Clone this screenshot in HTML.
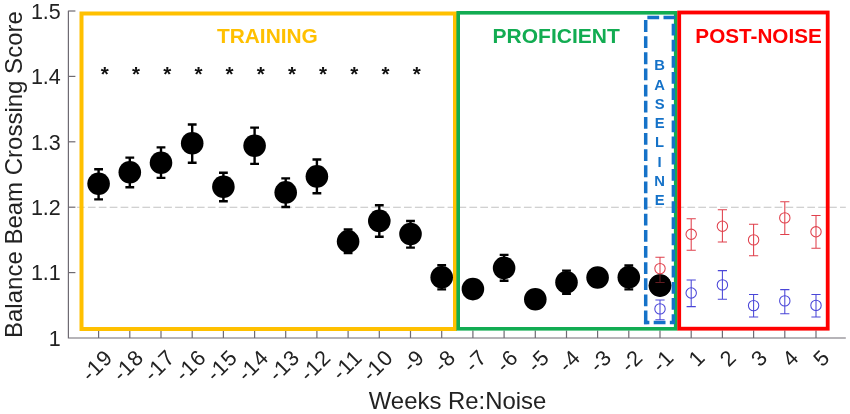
<!DOCTYPE html>
<html><head><meta charset="utf-8"><title>Balance Beam Crossing Score</title>
<style>html,body{margin:0;padding:0;background:#fff}svg{display:block}text{font-family:"Liberation Sans",sans-serif}</style></head>
<body>
<svg width="850" height="414" viewBox="0 0 850 414">
<rect width="850" height="414" fill="#fff"/>
<g stroke="#6e6a72" stroke-width="1.2" fill="none">
<path d="M68.4 10.8 V338 H845.8"/>
<path d="M68.4 272.6 h7"/>
<path d="M68.4 207.2 h7"/>
<path d="M68.4 141.8 h7"/>
<path d="M68.4 76.4 h7"/>
<path d="M68.4 11.0 h7"/>
<path d="M98.6 338 v-7.5"/>
<path d="M129.8 338 v-7.5"/>
<path d="M161.0 338 v-7.5"/>
<path d="M192.2 338 v-7.5"/>
<path d="M223.4 338 v-7.5"/>
<path d="M254.6 338 v-7.5"/>
<path d="M285.7 338 v-7.5"/>
<path d="M316.9 338 v-7.5"/>
<path d="M348.1 338 v-7.5"/>
<path d="M379.3 338 v-7.5"/>
<path d="M410.5 338 v-7.5"/>
<path d="M441.7 338 v-7.5"/>
<path d="M472.9 338 v-7.5"/>
<path d="M504.1 338 v-7.5"/>
<path d="M535.3 338 v-7.5"/>
<path d="M566.5 338 v-7.5"/>
<path d="M597.6 338 v-7.5"/>
<path d="M628.8 338 v-7.5"/>
<path d="M660.0 338 v-7.5"/>
<path d="M691.2 338 v-7.5"/>
<path d="M722.4 338 v-7.5"/>
<path d="M753.6 338 v-7.5"/>
<path d="M784.8 338 v-7.5"/>
<path d="M816.0 338 v-7.5"/>
</g>
<path d="M77 207.3 H845.8" stroke="#c2c2c2" stroke-width="1.1" stroke-dasharray="7.7 3.2" fill="none"/>
<text x="60.8" y="345.7" font-size="21.5" text-anchor="end" fill="#222">1</text>
<text x="60.8" y="280.3" font-size="21.5" text-anchor="end" fill="#222">1.1</text>
<text x="60.8" y="214.9" font-size="21.5" text-anchor="end" fill="#222">1.2</text>
<text x="60.8" y="149.5" font-size="21.5" text-anchor="end" fill="#222">1.3</text>
<text x="60.8" y="84.1" font-size="21.5" text-anchor="end" fill="#222">1.4</text>
<text x="60.8" y="18.7" font-size="21.5" text-anchor="end" fill="#222">1.5</text>
<text transform="translate(104.8 349.6) rotate(-45)" font-size="21.6" letter-spacing="0.8" text-anchor="end" fill="#222" dominant-baseline="auto" y="13">-19</text>
<text transform="translate(136.0 349.6) rotate(-45)" font-size="21.6" letter-spacing="0.8" text-anchor="end" fill="#222" dominant-baseline="auto" y="13">-18</text>
<text transform="translate(167.2 349.6) rotate(-45)" font-size="21.6" letter-spacing="0.8" text-anchor="end" fill="#222" dominant-baseline="auto" y="13">-17</text>
<text transform="translate(198.4 349.6) rotate(-45)" font-size="21.6" letter-spacing="0.8" text-anchor="end" fill="#222" dominant-baseline="auto" y="13">-16</text>
<text transform="translate(229.6 349.6) rotate(-45)" font-size="21.6" letter-spacing="0.8" text-anchor="end" fill="#222" dominant-baseline="auto" y="13">-15</text>
<text transform="translate(260.8 349.6) rotate(-45)" font-size="21.6" letter-spacing="0.8" text-anchor="end" fill="#222" dominant-baseline="auto" y="13">-14</text>
<text transform="translate(291.9 349.6) rotate(-45)" font-size="21.6" letter-spacing="0.8" text-anchor="end" fill="#222" dominant-baseline="auto" y="13">-13</text>
<text transform="translate(323.1 349.6) rotate(-45)" font-size="21.6" letter-spacing="0.8" text-anchor="end" fill="#222" dominant-baseline="auto" y="13">-12</text>
<text transform="translate(354.3 349.6) rotate(-45)" font-size="21.6" letter-spacing="0.8" text-anchor="end" fill="#222" dominant-baseline="auto" y="13">-11</text>
<text transform="translate(385.5 349.6) rotate(-45)" font-size="21.6" letter-spacing="0.8" text-anchor="end" fill="#222" dominant-baseline="auto" y="13">-10</text>
<text transform="translate(416.7 349.6) rotate(-45)" font-size="21.6" letter-spacing="0.8" text-anchor="end" fill="#222" dominant-baseline="auto" y="13">-9</text>
<text transform="translate(447.9 349.6) rotate(-45)" font-size="21.6" letter-spacing="0.8" text-anchor="end" fill="#222" dominant-baseline="auto" y="13">-8</text>
<text transform="translate(479.1 349.6) rotate(-45)" font-size="21.6" letter-spacing="0.8" text-anchor="end" fill="#222" dominant-baseline="auto" y="13">-7</text>
<text transform="translate(510.3 349.6) rotate(-45)" font-size="21.6" letter-spacing="0.8" text-anchor="end" fill="#222" dominant-baseline="auto" y="13">-6</text>
<text transform="translate(541.5 349.6) rotate(-45)" font-size="21.6" letter-spacing="0.8" text-anchor="end" fill="#222" dominant-baseline="auto" y="13">-5</text>
<text transform="translate(572.7 349.6) rotate(-45)" font-size="21.6" letter-spacing="0.8" text-anchor="end" fill="#222" dominant-baseline="auto" y="13">-4</text>
<text transform="translate(603.8 349.6) rotate(-45)" font-size="21.6" letter-spacing="0.8" text-anchor="end" fill="#222" dominant-baseline="auto" y="13">-3</text>
<text transform="translate(635.0 349.6) rotate(-45)" font-size="21.6" letter-spacing="0.8" text-anchor="end" fill="#222" dominant-baseline="auto" y="13">-2</text>
<text transform="translate(666.2 349.6) rotate(-45)" font-size="21.6" letter-spacing="0.8" text-anchor="end" fill="#222" dominant-baseline="auto" y="13">-1</text>
<text transform="translate(697.4 349.6) rotate(-45)" font-size="21.6" letter-spacing="0.8" text-anchor="end" fill="#222" dominant-baseline="auto" y="13">1</text>
<text transform="translate(728.6 349.6) rotate(-45)" font-size="21.6" letter-spacing="0.8" text-anchor="end" fill="#222" dominant-baseline="auto" y="13">2</text>
<text transform="translate(759.8 349.6) rotate(-45)" font-size="21.6" letter-spacing="0.8" text-anchor="end" fill="#222" dominant-baseline="auto" y="13">3</text>
<text transform="translate(791.0 349.6) rotate(-45)" font-size="21.6" letter-spacing="0.8" text-anchor="end" fill="#222" dominant-baseline="auto" y="13">4</text>
<text transform="translate(822.2 349.6) rotate(-45)" font-size="21.6" letter-spacing="0.8" text-anchor="end" fill="#222" dominant-baseline="auto" y="13">5</text>
<text x="457.5" y="409.4" font-size="23.9" text-anchor="middle" fill="#222">Weeks Re:Noise</text>
<text transform="translate(22 174.6) rotate(-90)" font-size="24" text-anchor="middle" fill="#222">Balance Beam Crossing Score</text>
<text x="104.8" y="81.0" font-size="20.6" font-weight="bold" text-anchor="middle" fill="#111">*</text>
<text x="136.0" y="81.0" font-size="20.6" font-weight="bold" text-anchor="middle" fill="#111">*</text>
<text x="167.2" y="81.0" font-size="20.6" font-weight="bold" text-anchor="middle" fill="#111">*</text>
<text x="198.4" y="81.0" font-size="20.6" font-weight="bold" text-anchor="middle" fill="#111">*</text>
<text x="229.6" y="81.0" font-size="20.6" font-weight="bold" text-anchor="middle" fill="#111">*</text>
<text x="260.8" y="81.0" font-size="20.6" font-weight="bold" text-anchor="middle" fill="#111">*</text>
<text x="291.9" y="81.0" font-size="20.6" font-weight="bold" text-anchor="middle" fill="#111">*</text>
<text x="323.1" y="81.0" font-size="20.6" font-weight="bold" text-anchor="middle" fill="#111">*</text>
<text x="354.3" y="81.0" font-size="20.6" font-weight="bold" text-anchor="middle" fill="#111">*</text>
<text x="385.5" y="81.0" font-size="20.6" font-weight="bold" text-anchor="middle" fill="#111">*</text>
<text x="416.7" y="81.0" font-size="20.6" font-weight="bold" text-anchor="middle" fill="#111">*</text>
<rect x="81.5" y="13.5" width="373.5" height="315.5" fill="none" stroke="#FFC000" stroke-width="4"/>
<rect x="458.2" y="12.8" width="217.5" height="316" fill="none" stroke="#12AC52" stroke-width="3.6"/>
<rect x="679.2" y="12.5" width="148.5" height="316.2" fill="none" stroke="#FF0000" stroke-width="3.8"/>
<path d="M645.7 322.4 V17.4 H673.4 V322.4 Z" fill="none" stroke="#1572C8" stroke-width="3.5" stroke-dasharray="11.8 4.34"/>
<rect x="643.95" y="320.65" width="3.5" height="3.5" fill="#1572C8"/>
<text x="267.4" y="42.9" font-size="20.9" font-weight="bold" text-anchor="middle" fill="#FFC000">TRAINING</text>
<text x="556.2" y="43.1" font-size="21" font-weight="bold" text-anchor="middle" fill="#12AC52">PROFICIENT</text>
<text x="758.6" y="42.9" font-size="20.7" font-weight="bold" text-anchor="middle" fill="#FF0000">POST-NOISE</text>
<text x="659.6" y="70.3" font-size="14.8" font-weight="bold" text-anchor="middle" fill="#1572C8">B</text>
<text x="659.6" y="89.5" font-size="14.8" font-weight="bold" text-anchor="middle" fill="#1572C8">A</text>
<text x="659.6" y="108.8" font-size="14.8" font-weight="bold" text-anchor="middle" fill="#1572C8">S</text>
<text x="659.6" y="128.0" font-size="14.8" font-weight="bold" text-anchor="middle" fill="#1572C8">E</text>
<text x="659.6" y="147.3" font-size="14.8" font-weight="bold" text-anchor="middle" fill="#1572C8">L</text>
<text x="659.6" y="166.5" font-size="14.8" font-weight="bold" text-anchor="middle" fill="#1572C8">I</text>
<text x="659.6" y="185.7" font-size="14.8" font-weight="bold" text-anchor="middle" fill="#1572C8">N</text>
<text x="659.6" y="205.0" font-size="14.8" font-weight="bold" text-anchor="middle" fill="#1572C8">E</text>
<g stroke="#000" stroke-width="2.4" fill="none">
<path d="M98.6 169.2 V199.4 M94.2 169.2 h8.8 M94.2 199.4 h8.8"/>
<path d="M129.8 157.6 V187.3 M125.4 157.6 h8.8 M125.4 187.3 h8.8"/>
<path d="M161.0 147.4 V177.9 M156.6 147.4 h8.8 M156.6 177.9 h8.8"/>
<path d="M192.2 124.5 V162.7 M187.8 124.5 h8.8 M187.8 162.7 h8.8"/>
<path d="M223.4 172.8 V201.3 M219.0 172.8 h8.8 M219.0 201.3 h8.8"/>
<path d="M254.6 127.6 V163.9 M250.2 127.6 h8.8 M250.2 163.9 h8.8"/>
<path d="M285.7 178.4 V207.0 M281.3 178.4 h8.8 M281.3 207.0 h8.8"/>
<path d="M316.9 159.5 V193.3 M312.5 159.5 h8.8 M312.5 193.3 h8.8"/>
<path d="M348.1 229.5 V253.1 M343.7 229.5 h8.8 M343.7 253.1 h8.8"/>
<path d="M379.3 205.3 V236.7 M374.9 205.3 h8.8 M374.9 236.7 h8.8"/>
<path d="M410.5 221.0 V247.6 M406.1 221.0 h8.8 M406.1 247.6 h8.8"/>
<path d="M441.7 265.2 V289.4 M437.3 265.2 h8.8 M437.3 289.4 h8.8"/>
<path d="M504.1 254.9 V280.7 M499.7 254.9 h8.8 M499.7 280.7 h8.8"/>
<path d="M566.5 270.6 V293.8 M562.1 270.6 h8.8 M562.1 293.8 h8.8"/>
<path d="M628.8 265.5 V289.4 M624.4 265.5 h8.8 M624.4 289.4 h8.8"/>
</g>
<g fill="#000">
<circle cx="98.6" cy="183.7" r="11.3"/>
<circle cx="129.8" cy="172.3" r="11.3"/>
<circle cx="161.0" cy="162.7" r="11.3"/>
<circle cx="192.2" cy="143.3" r="11.3"/>
<circle cx="223.4" cy="186.8" r="11.3"/>
<circle cx="254.6" cy="145.7" r="11.3"/>
<circle cx="285.7" cy="192.4" r="11.3"/>
<circle cx="316.9" cy="176.4" r="11.3"/>
<circle cx="348.1" cy="241.4" r="11.3"/>
<circle cx="379.3" cy="220.9" r="11.3"/>
<circle cx="410.5" cy="234.1" r="11.3"/>
<circle cx="441.7" cy="277.3" r="11.3"/>
<circle cx="472.9" cy="289.1" r="11.3"/>
<circle cx="504.1" cy="267.9" r="11.3"/>
<circle cx="535.3" cy="299.2" r="11.3"/>
<circle cx="566.5" cy="282.2" r="11.3"/>
<circle cx="597.6" cy="277.5" r="11.3"/>
<circle cx="628.8" cy="277.3" r="11.3"/>
<circle cx="660.0" cy="285.6" r="11.3"/>
</g>
<g stroke="#e0404c" stroke-width="1.05" fill="none">
<path d="M691.2 218.8 V250.3 M686.6 218.8 h9.2 M686.6 250.3 h9.2"/><circle cx="691.2" cy="234.3" r="5.2"/>
<path d="M722.4 209.8 V242.0 M717.8 209.8 h9.2 M717.8 242.0 h9.2"/><circle cx="722.4" cy="226.2" r="5.2"/>
<path d="M753.6 224.3 V255.8 M749.0 224.3 h9.2 M749.0 255.8 h9.2"/><circle cx="753.6" cy="239.9" r="5.2"/>
<path d="M784.8 201.7 V234.5 M780.2 201.7 h9.2 M780.2 234.5 h9.2"/><circle cx="784.8" cy="217.9" r="5.2"/>
<path d="M816.0 215.4 V248.2 M811.4 215.4 h9.2 M811.4 248.2 h9.2"/><circle cx="816.0" cy="231.8" r="5.2"/>
</g>
<g stroke="#e0404c" stroke-width="1.05" fill="none">
<path d="M660.0 257.3 V282.5 M655.4 257.3 h9.2 M655.4 282.5 h9.2"/><circle cx="660.0" cy="268.6" r="5.2"/>
</g>
<circle cx="660.0" cy="285.6" r="11.3" fill="#000" fill-opacity="0.55"/>
<g stroke="#4a46d8" stroke-width="1.05" fill="none">
<path d="M660.0 299.9 V319.8 M655.4 299.9 h9.2 M655.4 319.8 h9.2"/><circle cx="660.0" cy="308.9" r="5.2"/>
<path d="M691.2 280.0 V306.6 M686.6 280.0 h9.2 M686.6 306.6 h9.2"/><circle cx="691.2" cy="293.0" r="5.2"/>
<path d="M722.4 270.6 V299.2 M717.8 270.6 h9.2 M717.8 299.2 h9.2"/><circle cx="722.4" cy="284.9" r="5.2"/>
<path d="M753.6 294.5 V316.9 M749.0 294.5 h9.2 M749.0 316.9 h9.2"/><circle cx="753.6" cy="305.6" r="5.2"/>
<path d="M784.8 289.6 V313.7 M780.2 289.6 h9.2 M780.2 313.7 h9.2"/><circle cx="784.8" cy="300.9" r="5.2"/>
<path d="M816.0 294.5 V316.9 M811.4 294.5 h9.2 M811.4 316.9 h9.2"/><circle cx="816.0" cy="305.4" r="5.2"/>
</g>
</svg></body></html>
